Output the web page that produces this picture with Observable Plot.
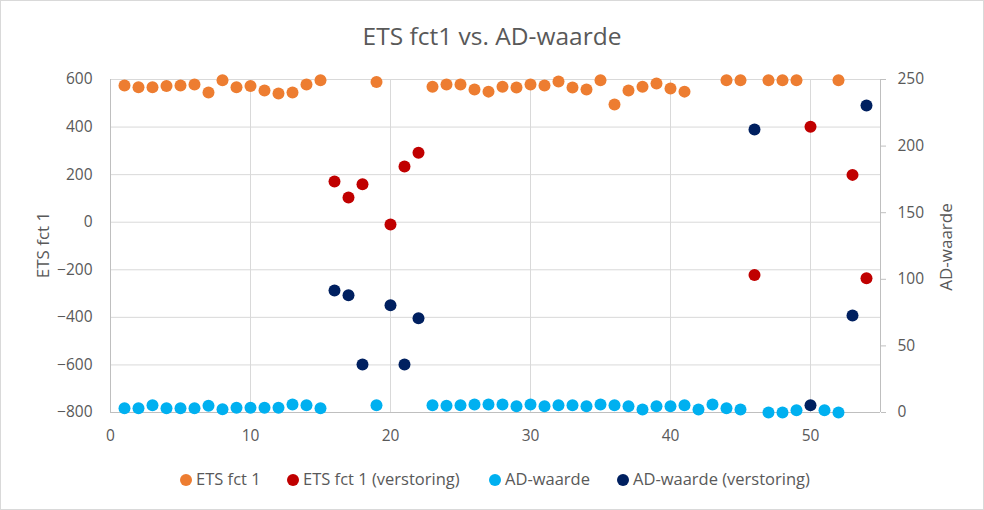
<!DOCTYPE html>
<html>
<head>
<meta charset="utf-8">
<script src="https://cdn.jsdelivr.net/npm/d3@7"></script>
<script src="https://cdn.jsdelivr.net/npm/@observablehq/plot@0.6"></script>
<style>
  html, body { margin: 0; padding: 0; background: #fff; }
  #wrap { position: relative; width: 984px; height: 510px; font-family: "Open Sans", sans-serif; color: #595959; overflow: hidden; }
  #frame { position: absolute; left: 0; top: 0; width: 982px; height: 508px; border: 1px solid #D9D9D9; pointer-events: none; }
  .abs { position: absolute; white-space: nowrap; line-height: 1; }
  #title { left: 0; width: 984px; text-align: center; top: 24px; font-size: 24.5px; }
  .ytitle { font-size: 17px; transform: translate(-50%, -50%) rotate(-90deg); }
  .leg { font-size: 16.5px; top: 471px; }
  .dot { position: absolute; width: 12px; height: 12px; border-radius: 50%; top: 474px; }
  #chart { position: absolute; left: 0; top: 0; }
</style>
</head>
<body>
<div id="wrap">
  <div id="chart"></div>
  <div id="title" class="abs">ETS fct1 vs. AD-waarde</div>
  <div class="abs ytitle" style="left:42px; top:245px;">ETS fct 1</div>
  <div class="abs ytitle" style="left:945px; top:247px;">AD-waarde</div>
  <div id="legend"></div>
  <div id="frame"></div>
</div>
<script>
// ---- data ----
const etsX = [1,2,3,4,5,6,7,8,9,10,11,12,13,14,15,19,23,24,25,26,27,28,29,30,31,32,33,34,35,36,37,38,39,40,41,44,45,47,48,49,52];
const etsY = [575,567,567,573,575,579,545,597,567,573,554,541,545,579,597,589,570,579,579,558,549,570,566,579,575,592,566,558,597,495,554,570,583,562,549,597,597,597,597,597,597];

const etsDistX = [16,17,18,20,21,22,46,50,53,54];
const etsDistY = [171,104,160,-10,234,292,-222,401,199,-236];

const adX = [1,2,3,4,5,6,7,8,9,10,11,12,13,14,15,19,23,24,25,26,27,28,29,30,31,32,33,34,35,36,37,38,39,40,41,42,43,44,45,47,48,49,51,52];
const adY = [3.2,3.2,5.5,3.2,3.2,3.2,5,2.5,3.5,3.5,3.5,3.5,6,5.5,3.2,5.5,5.5,5,5.5,6,6,6,4.7,6,4.7,5.5,5.5,4.7,6,5.5,4.7,2.2,4.7,4.7,5.5,2.2,6,3.2,2.2,0,0,1.7,1.7,0];

const adDistX = [16,17,18,20,21,22,46,50,53,54];
const adDistY = [91.6,88,36,80.6,36,70.8,212.5,5.5,72.8,230.5];

const xTicks = [0,10,20,30,40,50];
const leftTicks = [-800,-600,-400,-200,0,200,400,600];
const rightTicks = [0,50,100,150,200,250];

const seriesNames = ["ETS fct 1","ETS fct 1 (verstoring)","AD-waarde","AD-waarde (verstoring)"];
const seriesColors = ["#ED7D31","#C00000","#00B0F0","#002060"];

// secondary axis (0..250) mapped onto primary (-800..600)
const leftMin = -800, leftMax = 600, rightMin = 0, rightMax = 250;
const toLeft = v => leftMin + (v - rightMin) * (leftMax - leftMin) / (rightMax - rightMin);
const fromLeft = d => rightMin + (d - leftMin) * (rightMax - rightMin) / (leftMax - leftMin);

const ets = etsX.map((x, i) => ({x, y: etsY[i]}));
const etsD = etsDistX.map((x, i) => ({x, y: etsDistY[i]}));
const ad = adX.map((x, i) => ({x, y: toLeft(adY[i])}));
const adD = adDistX.map((x, i) => ({x, y: toLeft(adDistY[i])}));

const fs = 15.5;
const plot = Plot.plot({
  width: 984,
  height: 510,
  marginTop: 79,
  marginBottom: 98,
  marginLeft: 110,
  marginRight: 104,
  style: {fontFamily: "Open Sans, sans-serif", color: "#595959", background: "transparent"},
  x: {domain: [0, 55], axis: null},
  y: {domain: [leftMin, leftMax], axis: null},
  marks: [
    Plot.gridY(leftTicks, {stroke: "#D9D9D9", strokeOpacity: 1, strokeWidth: 1}),
    Plot.gridX(xTicks.filter(d => d > 0), {stroke: "#D9D9D9", strokeOpacity: 1, strokeWidth: 1}),
    Plot.ruleY([leftMin], {stroke: "#BFBFBF", strokeWidth: 1}),
    Plot.ruleX([0], {stroke: "#BFBFBF", strokeWidth: 1}),
    Plot.ruleX([55], {stroke: "#BFBFBF", strokeWidth: 1}),
    Plot.axisY({anchor: "left", ticks: leftTicks, tickSize: 0, tickPadding: 18, fontSize: fs, label: null, fill: "#595959"}),
    Plot.axisY({anchor: "right", ticks: rightTicks.map(toLeft), tickFormat: d => String(Math.round(fromLeft(d))), tickSize: 5, tickPadding: 12, stroke: "#BFBFBF", fontSize: fs, label: null, fill: "#595959"}),
    Plot.axisX({anchor: "bottom", ticks: xTicks, tickSize: 0, tickPadding: 17, fontSize: fs, label: null, fill: "#595959"}),
    Plot.dot(ets, {x: "x", y: "y", r: 6, fill: seriesColors[0], stroke: null}),
    Plot.dot(etsD, {x: "x", y: "y", r: 6, fill: seriesColors[1], stroke: null}),
    Plot.dot(ad, {x: "x", y: "y", r: 6, fill: seriesColors[2], stroke: null}),
    Plot.dot(adD, {x: "x", y: "y", r: 6, fill: seriesColors[3], stroke: null})
  ]
});
document.getElementById("chart").appendChild(plot);

// legend
const legendDotX = [186, 293, 495, 623];
const legend = document.getElementById("legend");
seriesNames.forEach((name, i) => {
  const d = document.createElement("div");
  d.className = "dot";
  d.style.left = (legendDotX[i] - 6) + "px";
  d.style.background = seriesColors[i];
  legend.appendChild(d);
  const t = document.createElement("div");
  t.className = "abs leg";
  t.style.left = (legendDotX[i] + 10) + "px";
  t.textContent = name;
  legend.appendChild(t);
});
</script>
</body>
</html>
